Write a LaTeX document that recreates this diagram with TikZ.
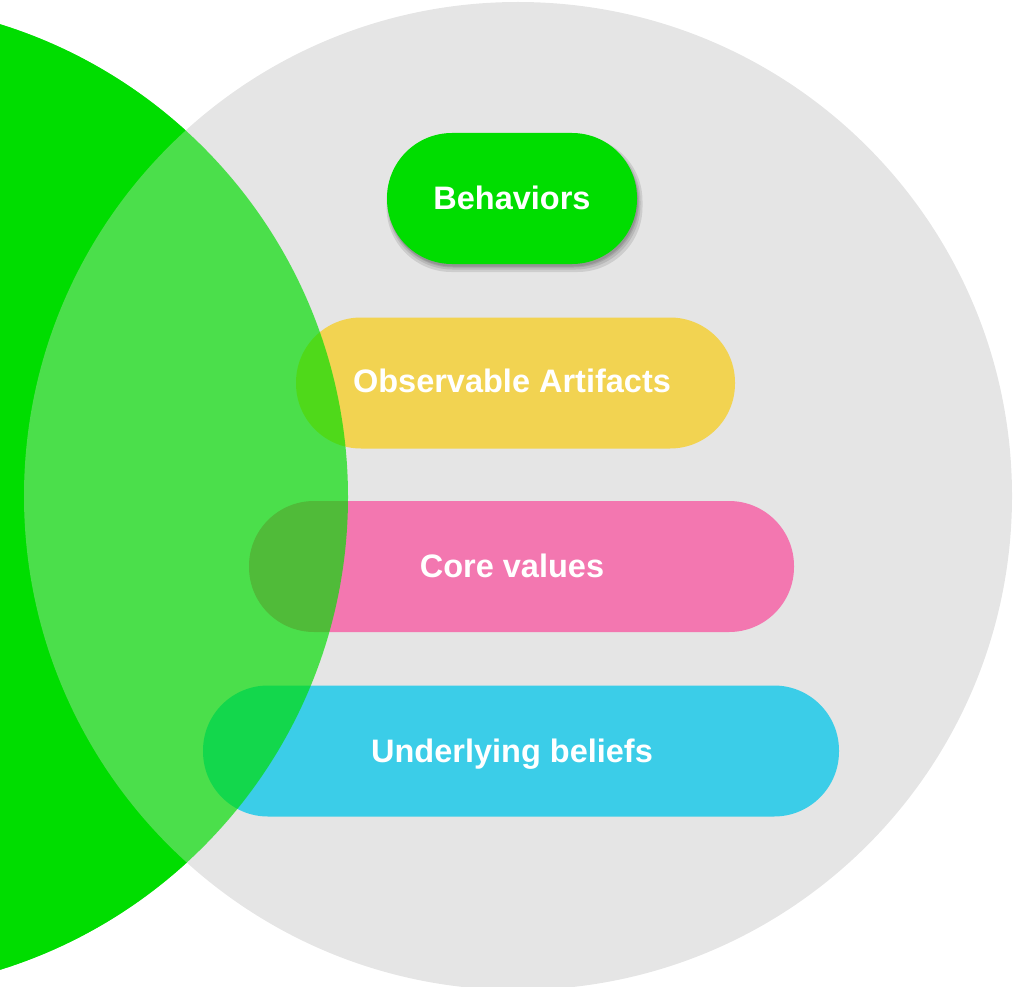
\documentclass[tikz,border=0pt]{standalone}
\usepackage{fontspec}
\setmainfont{Liberation Sans}
\definecolor{vgreen}{HTML}{00DD00}
\definecolor{vgray}{HTML}{E5E5E5}
\definecolor{pyellow}{HTML}{F2D351}
\definecolor{ppink}{HTML}{F377B0}
\definecolor{pcyan}{HTML}{3BCDE8}
\begin{document}
\begin{tikzpicture}[x=1pt,y=-1pt,
  pill/.style={rounded corners=65pt, minimum height=131pt, inner sep=0pt, draw=none},
  shade/.style={pill, fill=black, fill opacity=0.10},
  lbl/.style={text=white, anchor=base, inner sep=0pt, font=\bfseries\fontsize{32.5}{38}\selectfont}]
\useasboundingbox (0,0) rectangle (1030,987);
\clip (0,0) rectangle (1030,987);
% base circles
\fill[vgreen] (-147,497) circle[radius=495pt];
\fill[vgray] (518,496) circle[radius=494pt];
% shadow of the behaviors pill
\node[shade, minimum width=256pt, minimum height=136pt] (sh1) at (514.5,204) {};
\node[shade, minimum width=253pt, minimum height=133pt] (sh2) at (514,203) {};
\node[shade, minimum width=251pt, minimum height=131pt] (sh3) at (513.5,202) {};
\node[shade, minimum width=250pt, minimum height=131pt] (sh4) at (513,201) {};
% pills
\node[pill, fill=vgreen, minimum width=250pt] (beh) at (512,198.5) {};
\node[pill, fill=pyellow, minimum width=439pt] (obs) at (515.5,383) {};
\node[pill, fill=ppink, minimum width=545pt] (core) at (521.5,566.5) {};
\node[pill, fill=pcyan, minimum width=636pt] (und) at (521,751) {};
% translucent green overlay
\fill[vgreen, fill opacity=0.67] (-147,497) circle[radius=495pt];
% labels
\node[lbl] (tbeh) at (512,209) {Behaviors};
\node[lbl] (tobs) at (512,392) {Observable Artifacts};
\node[lbl] (tcore) at (512,577) {Core values};
\node[lbl] (tund) at (512,762) {Underlying beliefs};
\end{tikzpicture}
\end{document}
